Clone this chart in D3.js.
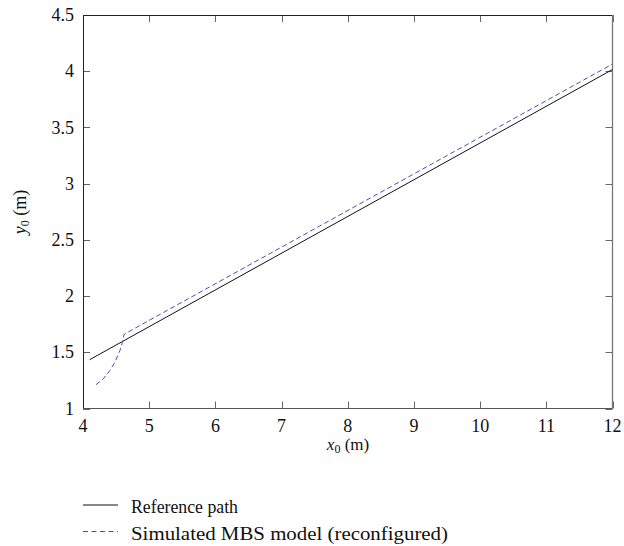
<!DOCTYPE html>
<html><head><meta charset="utf-8">
<script src="https://cdn.jsdelivr.net/npm/d3@7"></script>
<style>
html,body{margin:0;padding:0;background:#fff;}
svg{display:block;}
</style></head>
<body>
<svg id="chart" width="624" height="546" font-family="'Liberation Serif', 'Times New Roman', 'DejaVu Serif', serif"></svg>
<script>
// Data
const xTicks = [4,5,6,7,8,9,10,11,12];
const yTicks = [1,1.5,2,2.5,3,3.5,4,4.5];
const yTickLabels = ["1","1.5","2","2.5","3","3.5","4","4.5"];
const refX = [4.1, 12];
const refY = [1.434, 4.015];
const simX = [4.196, 4.307, 4.408, 4.483, 4.559, 4.600, 4.619, 4.65, 12];
const simY = [1.211, 1.265, 1.339, 1.413, 1.517, 1.600, 1.657, 1.670, 4.064];
const seriesNames = ["Reference path", "Simulated MBS model (reconfigured)"];
const seriesColors = ["#111111", "#3b55b5"];

const svg = d3.select("#chart");
const L = 83, R = 612.5, T = 15, B = 408.5;
const x = d3.scaleLinear().domain([4,12]).range([L,R]);
const y = d3.scaleLinear().domain([1,4.5]).range([B,T]);
const fs = 18;
const tc = "#111";

// ticks (inward on all four sides)
const tk = 7;
const g = svg.append("g");
xTicks.forEach(v=>{
  const px = Math.round(x(v))+0.5;
  g.append("line").attr("x1",px).attr("x2",px).attr("y1",B).attr("y2",B-tk).attr("stroke","#666");
  g.append("line").attr("x1",px).attr("x2",px).attr("y1",T).attr("y2",T+tk).attr("stroke","#666");
});
yTicks.forEach(v=>{
  const py = Math.round(y(v))+0.5;
  g.append("line").attr("x1",L).attr("x2",L+tk).attr("y1",py).attr("y2",py).attr("stroke","#666");
  g.append("line").attr("x1",R).attr("x2",R-tk).attr("y1",py).attr("y2",py).attr("stroke","#666");
});
// frame
g.append("line").attr("x1",L+0.5).attr("x2",L+0.5).attr("y1",T).attr("y2",B).attr("stroke","#222");
g.append("line").attr("x1",L).attr("x2",R).attr("y1",T+0.5).attr("y2",T+0.5).attr("stroke","#222");
g.append("line").attr("x1",R).attr("x2",R).attr("y1",T).attr("y2",B).attr("stroke","#777").attr("stroke-width",1.3);
g.append("line").attr("x1",L).attr("x2",R).attr("y1",B).attr("y2",B).attr("stroke","#555").attr("stroke-width",1.2);

// tick labels
xTicks.forEach(v=>{
  svg.append("text").attr("x",x(v)).attr("y",431.5).attr("text-anchor","middle")
    .attr("font-size",fs).attr("fill",tc).text(v);
});
yTicks.forEach((v,i)=>{
  svg.append("text").attr("x",74).attr("y",y(v)).attr("dy","0.34em").attr("text-anchor","end")
    .attr("font-size",fs).attr("fill",tc).text(yTickLabels[i]);
});

// axis labels
const xl = svg.append("text").attr("x",348).attr("y",450).attr("text-anchor","middle").attr("font-size",17).attr("fill",tc);
xl.append("tspan").attr("font-style","italic").text("x");
xl.append("tspan").attr("font-size",12).attr("dy",3).text("0");
xl.append("tspan").attr("dy",-3).text(" (m)");
const yl = svg.append("text").attr("transform","translate(26,212) rotate(-90)").attr("text-anchor","middle").attr("font-size",fs).attr("fill",tc);
yl.append("tspan").attr("font-style","italic").text("y");
yl.append("tspan").attr("font-size",12).attr("dy",3).text("0");
yl.append("tspan").attr("dy",-3).text(" (m)");

// lines
const line = d3.line().x(d=>x(d[0])).y(d=>y(d[1]));
svg.append("path").datum(refX.map((v,i)=>[v,refY[i]])).attr("d",line)
  .attr("fill","none").attr("stroke",seriesColors[0]).attr("stroke-width",1);
svg.append("path").datum(simX.map((v,i)=>[v,simY[i]])).attr("d",line)
  .attr("fill","none").attr("stroke",seriesColors[1]).attr("stroke-width",1).attr("stroke-dasharray","5,3");

// legend
const lg = [[505, 0, 107],[531.5, 1, 317]];
lg.forEach(([ly,i,w])=>{
  svg.append("line").attr("x1",83).attr("x2",118).attr("y1",ly).attr("y2",ly)
    .attr("stroke",seriesColors[i]).attr("stroke-width",1)
    .attr("stroke-dasharray", i===1 ? "5,3.5" : null);
  svg.append("text").attr("x",131).attr("y",ly+8).attr("font-size",19).attr("fill",tc)
    .attr("textLength",w).attr("lengthAdjust","spacingAndGlyphs").text(seriesNames[i]);
});
</script>
</body></html>
